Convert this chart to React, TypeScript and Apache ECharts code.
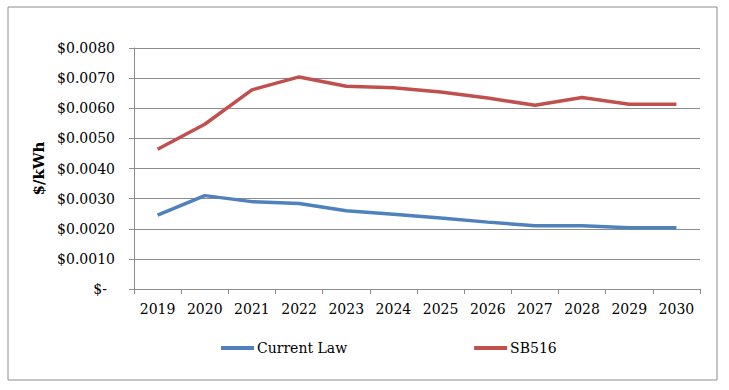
import React, { useEffect, useRef } from "react";
import * as echarts from "echarts";

const years = ["2019", "2020", "2021", "2022", "2023", "2024", "2025", "2026", "2027", "2028", "2029", "2030"];
const currentLaw = [0.00245, 0.0031, 0.0029, 0.00284, 0.0026, 0.00248, 0.00236, 0.00222, 0.0021, 0.0021, 0.00203, 0.00203];
const sb516 = [0.00464, 0.00547, 0.00661, 0.00704, 0.00673, 0.00668, 0.00654, 0.00634, 0.0061, 0.00636, 0.00613, 0.00613];
const seriesNames = ["Current Law", "SB516"];
const colors = ["#4F81BD", "#C0504D"];

const FONT = "DejaVu Serif";

export default function App() {
  const ref = useRef<HTMLDivElement>(null);
  useEffect(() => {
    if (!ref.current) return;
    const chart = echarts.init(ref.current, null, { renderer: "svg" });
    chart.setOption({
      animation: false,
      backgroundColor: "#ffffff",
      textStyle: { fontFamily: FONT },
      graphic: [
        {
          type: "rect",
          shape: { x: 8, y: 7, width: 709, height: 373 },
          style: { fill: "none", stroke: "#8c8c8c", lineWidth: 1 },
          silent: true,
        },
      ],
      grid: { left: 134, top: 48, right: 29, bottom: 101 },
      legend: {
        left: 221,
        top: 341,
        padding: 0,
        itemWidth: 33,
        itemHeight: 4,
        itemGap: 127,
        icon: "rect",
        textStyle: { fontFamily: FONT, fontSize: 14, color: "#000", padding: [0, 0, 0, -2] },
        data: seriesNames,
      },
      xAxis: {
        type: "category",
        data: years,
        boundaryGap: true,
        axisLine: { lineStyle: { color: "#8c8c8c", width: 1 } },
        axisTick: { show: true, length: 5, lineStyle: { color: "#8c8c8c" } },
        axisLabel: { color: "#000", fontFamily: FONT, fontSize: 14, margin: 13 },
        splitLine: { show: false },
      },
      yAxis: {
        type: "value",
        min: 0,
        max: 0.008,
        interval: 0.001,
        name: "$/kWh",
        nameLocation: "middle",
        nameRotate: 90,
        nameGap: 80,
        nameTextStyle: { fontFamily: FONT, fontSize: 15, fontWeight: "bold", color: "#000" },
        axisLine: { show: true, lineStyle: { color: "#8c8c8c", width: 1 } },
        axisTick: { show: true, length: 5, lineStyle: { color: "#8c8c8c" } },
        axisLabel: {
          color: "#000",
          fontFamily: FONT,
          fontSize: 14,
          margin: 19,
          formatter: (v: number) => (v === 0 ? "{z|$-}" : "$" + v.toFixed(4)),
          rich: { z: { fontFamily: FONT, fontSize: 14, color: "#000", padding: [0, 8, 0, 0] } },
        },
        splitLine: { show: true, lineStyle: { color: "#8c8c8c", width: 1 } },
      },
      series: [
        {
          name: seriesNames[0],
          type: "line",
          data: currentLaw,
          symbol: "none",
          lineStyle: { color: colors[0], width: 3.5 },
          itemStyle: { color: colors[0] },
        },
        {
          name: seriesNames[1],
          type: "line",
          data: sb516,
          symbol: "none",
          lineStyle: { color: colors[1], width: 3.5 },
          itemStyle: { color: colors[1] },
        },
      ],
    });
    return () => chart.dispose();
  }, []);
  return (
    <div
      ref={ref}
      style={{ position: "fixed", left: 0, top: 0, width: 729, height: 390 }}
    />
  );
}
